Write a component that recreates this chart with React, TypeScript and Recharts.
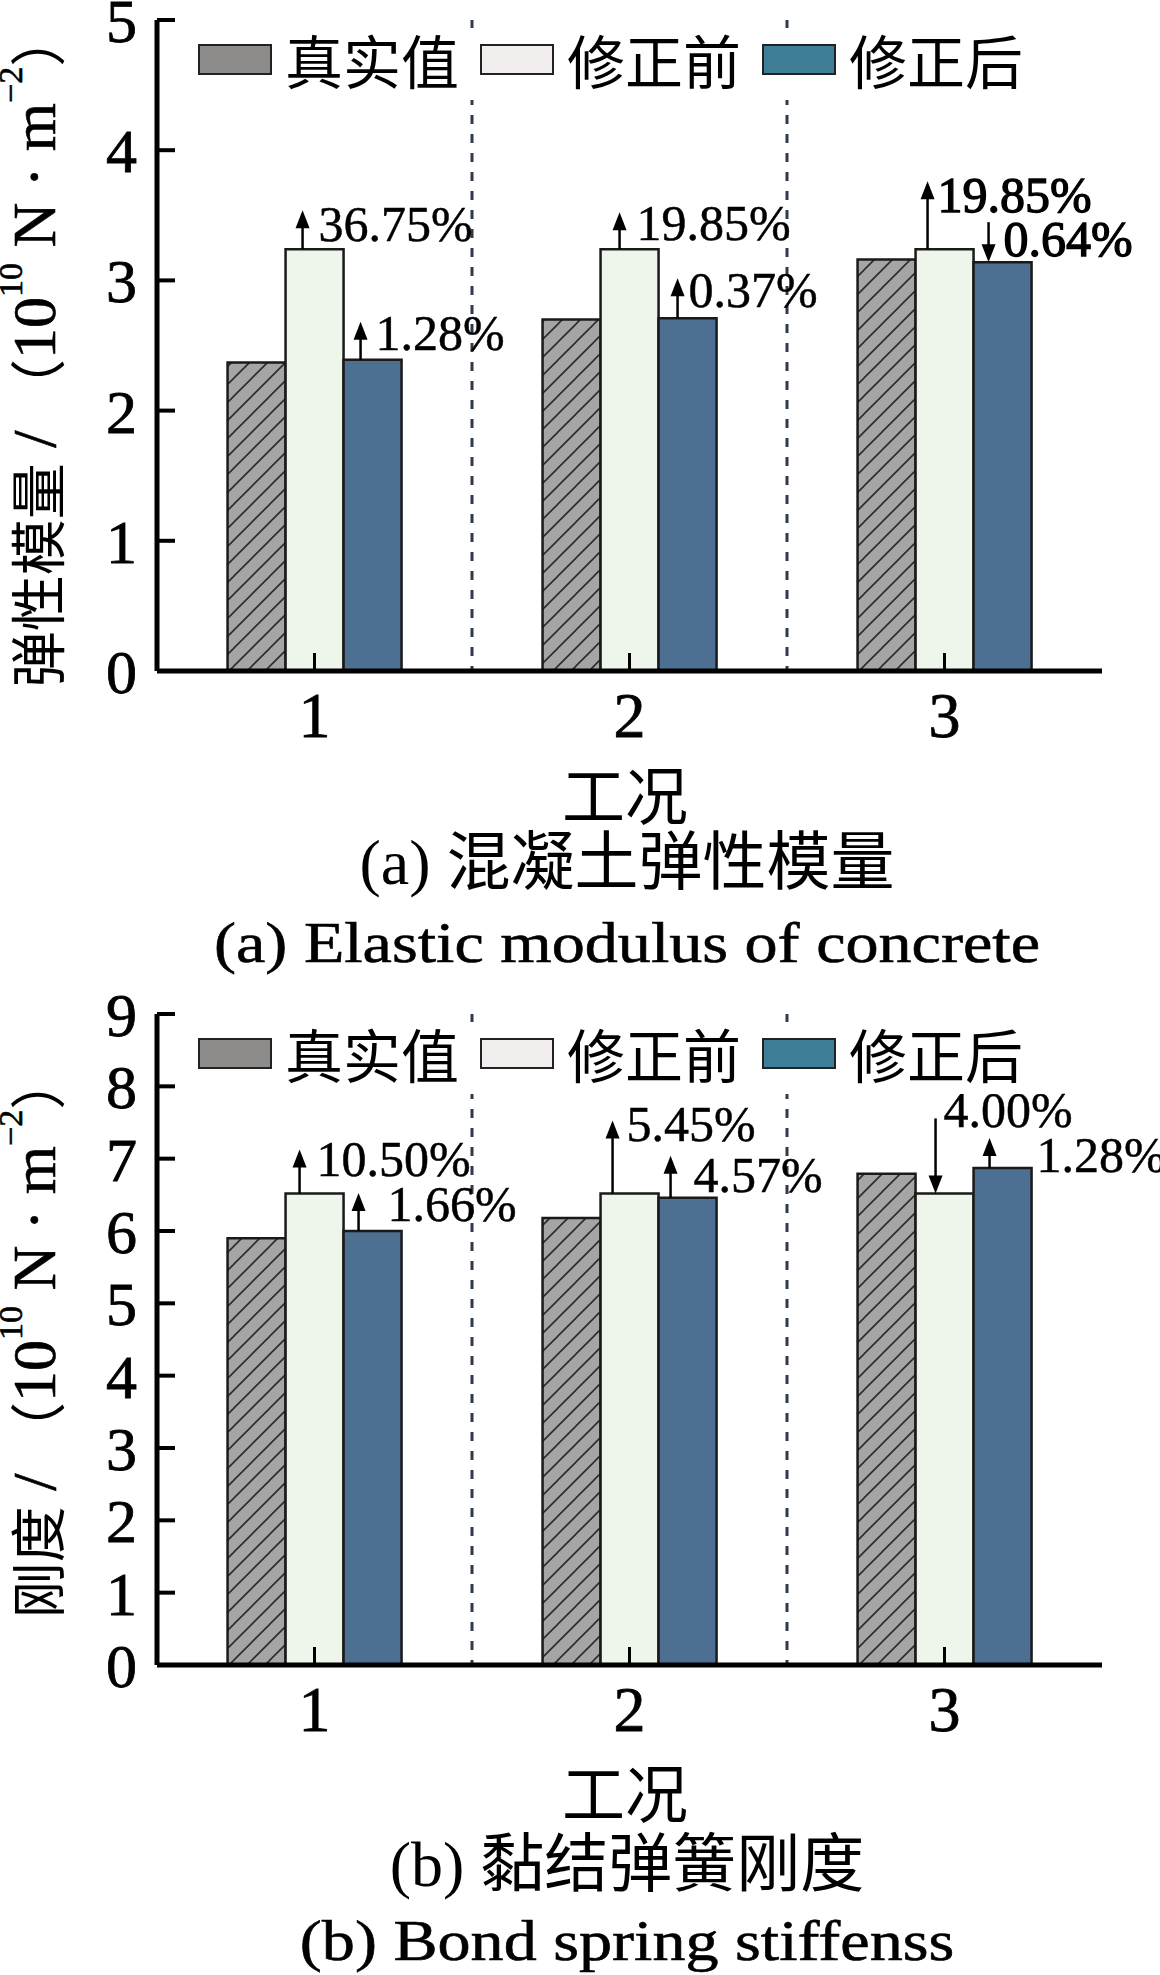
import React from "react";
import { BarChart, Bar, XAxis, YAxis, CartesianGrid, LabelList } from "recharts";

const cases = ["1", "2", "3"];
const seriesNames = ["真实值", "修正前", "修正后"];

// (a) elastic modulus of concrete, 10^10 N·m^-2
const modulusTrue = [2.37, 2.7, 3.16];
const modulusBefore = [3.24, 3.24, 3.24];
const modulusAfter = [2.39, 2.71, 3.14];
const modulusBeforeNotes = ["36.75%", "19.85%", "19.85%"];
const modulusAfterNotes = ["1.28%", "0.37%", "0.64%"];
const modulusTicks = [0, 1, 2, 3, 4, 5];

// (b) bond spring stiffness, 10^10 N·m^-2
const stiffTrue = [5.9, 6.18, 6.79];
const stiffBefore = [6.52, 6.52, 6.52];
const stiffAfter = [6.0, 6.46, 6.87];
const stiffBeforeNotes = ["10.50%", "5.45%", "4.00%"];
const stiffAfterNotes = ["1.66%", "4.57%", "1.28%"];
const stiffTicks = [0, 1, 2, 3, 4, 5, 6, 7, 8, 9];

const SERIF = "'Liberation Serif', 'Times New Roman', 'Noto Sans CJK SC', serif";
const CJK = "'Noto Sans CJK SC', 'Liberation Serif', sans-serif";
const barColors = ["url(#hatch)", "#eef5eb", "#4c6f92"];
const legendColors = ["#8e8b8b", "#f2eeee", "#3f7e97"];

type NoteLayout = { ax: number; len: number; lx: number; ly: number; heavy?: boolean };

// arrow offset from bar left, arrow length, label offset from arrow, label baseline vs bar top
const modulusBeforeLayout: NoteLayout[] = [
  { ax: 17, len: 39, lx: 16, ly: -8 },
  { ax: 19, len: 37, lx: 17, ly: -9 },
  { ax: 12, len: 68, lx: 10, ly: -37, heavy: true },
];
const modulusAfterLayout: NoteLayout[] = [
  { ax: 17, len: 38, lx: 15, ly: -10 },
  { ax: 19, len: 40, lx: 11, ly: -11 },
  { ax: 15, len: 40, lx: 15, ly: -6, heavy: true },
];
const stiffBeforeLayout: NoteLayout[] = [
  { ax: 14, len: 44, lx: 17, ly: -17 },
  { ax: 12, len: 73, lx: 14, ly: -52 },
  { ax: 20, len: 75, lx: 8, ly: -66 },
];
const stiffAfterLayout: NoteLayout[] = [
  { ax: 15, len: 38, lx: 29, ly: -10 },
  { ax: 12, len: 42, lx: 23, ly: -6 },
  { ax: 16, len: 30, lx: 47, ly: 4 },
];

const buildRows = (t: number[], b: number[], a: number[], bn: string[], an: string[]) =>
  cases.map((name, i) => ({
    name,
    trueVal: t[i],
    before: b[i],
    after: a[i],
    beforeNote: bn[i],
    afterNote: an[i],
  }));

const makeNote = (truth: number[], values: number[], layout: NoteLayout[]) => (props: any) => {
  const i = props.index ?? 0;
  const l = layout[i];
  if (!l) return null;
  const x = Number(props.x);
  const top = Number(props.y);
  const ax = x + l.ax;
  const up = values[i] >= truth[i];
  const head = 18;
  const hw = 7;
  const arrow = up ? (
    <g>
      <line x1={ax} y1={top} x2={ax} y2={top - l.len + head - 2} stroke="#000" strokeWidth={2.5} />
      <polygon
        points={`${ax - hw},${top - l.len + head} ${ax + hw},${top - l.len + head} ${ax},${top - l.len}`}
        fill="#000"
      />
    </g>
  ) : (
    <g>
      <line x1={ax} y1={top - l.len} x2={ax} y2={top - head + 2} stroke="#000" strokeWidth={2.5} />
      <polygon points={`${ax - hw},${top - head} ${ax + hw},${top - head} ${ax},${top}`} fill="#000" />
    </g>
  );
  return (
    <g>
      {arrow}
      <text
        x={ax + l.lx}
        y={top + l.ly}
        fontSize={50}
        fontFamily={SERIF}
        fill="#000"
        stroke="#000"
        strokeWidth={l.heavy ? 1.3 : 0.5}
      >
        {props.value}
      </text>
    </g>
  );
};

const frame = { stroke: "#000", strokeWidth: 5 };

function Panel(p: {
  top: number;
  max: number;
  ticks: number[];
  truth: number[];
  before: number[];
  after: number[];
  beforeNotes: string[];
  afterNotes: string[];
  beforeLayout: NoteLayout[];
  afterLayout: NoteLayout[];
}) {
  const rows = buildRows(p.truth, p.before, p.after, p.beforeNotes, p.afterNotes);
  return (
    <div style={{ position: "absolute", left: 0, top: p.top }}>
      <BarChart
        width={1160}
        height={751}
        data={rows}
        margin={{ top: 20, right: 58, bottom: 0, left: 0 }}
        barCategoryGap="22.4%"
        barGap={0}
      >
        <CartesianGrid
          horizontal={false}
          vertical
          stroke="#2f3b4a"
          strokeWidth={3}
          strokeDasharray="9 10"
          verticalCoordinatesGenerator={({ offset }: any) =>
            cases.slice(1).map((_, k) => offset.left + (offset.width * (k + 1)) / cases.length)
          }
        />
        <XAxis
          dataKey="name"
          height={80}
          interval={0}
          tickSize={-18}
          tickMargin={39}
          axisLine={frame}
          tickLine={{ stroke: "#000", strokeWidth: 3 }}
          tick={{ fill: "#000", stroke: "#000", strokeWidth: 0.8, fontSize: 64, fontFamily: SERIF }}
        />
        <XAxis
          xAxisId="top"
          orientation="top"
          dataKey="name"
          height={0}
          tick={false}
          tickLine={false}
          axisLine={frame}
        />
        <YAxis
          width={157}
          domain={[0, p.max]}
          ticks={p.ticks}
          interval={0}
          tickSize={-18}
          tickMargin={38}
          axisLine={frame}
          tickLine={{ stroke: "#000", strokeWidth: 4 }}
          tick={{ fill: "#000", stroke: "#000", strokeWidth: 0.8, fontSize: 62, fontFamily: SERIF }}
        />
        <YAxis
          yAxisId="right"
          orientation="right"
          width={0}
          domain={[0, p.max]}
          tick={false}
          tickLine={false}
          axisLine={frame}
        />
        <Bar dataKey="trueVal" name={seriesNames[0]} fill={barColors[0]} stroke="#1a1a1a" strokeWidth={2.5} isAnimationActive={false} />
        <Bar dataKey="before" name={seriesNames[1]} fill={barColors[1]} stroke="#1a1a1a" strokeWidth={2.5} isAnimationActive={false}>
          <LabelList dataKey="beforeNote" content={makeNote(p.truth, p.before, p.beforeLayout)} />
        </Bar>
        <Bar dataKey="after" name={seriesNames[2]} fill={barColors[2]} stroke="#1a1a1a" strokeWidth={2.5} isAnimationActive={false}>
          <LabelList dataKey="afterNote" content={makeNote(p.truth, p.after, p.afterLayout)} />
        </Bar>
      </BarChart>
    </div>
  );
}

function LegendBox({ top }: { top: number }) {
  return (
    <div
      style={{
        position: "absolute",
        left: 190,
        top,
        width: 860,
        height: 72,
        background: "#fff",
      }}
    >
      <div style={{ display: "flex", alignItems: "center", height: 62, paddingLeft: 8 }}>
        {seriesNames.map((n, i) => (
          <div key={n} style={{ display: "flex", alignItems: "center", width: 282 }}>
            <div
              style={{
                width: 74,
                height: 31,
                boxSizing: "border-box",
                border: "2px solid #222",
                background: legendColors[i],
              }}
            />
            <span style={{ marginLeft: 13, fontFamily: CJK, fontSize: 58, lineHeight: 1, color: "#000" }}>{n}</span>
          </div>
        ))}
      </div>
    </div>
  );
}

function YLabel({ y, head }: { y: number; head: string }) {
  return (
    <text
      transform={`translate(34 ${y}) rotate(-90)`}
      textAnchor="middle"
      dominantBaseline="central"
      fontSize={62}
      fontFamily={SERIF}
      fill="#000"
      stroke="#000"
      strokeWidth={0.6}
    >
      <tspan fontFamily={CJK} fontSize={56} strokeWidth={0}>{head}</tspan>
      <tspan> / </tspan>
      <tspan fontFamily={CJK} fontSize={56} strokeWidth={0}>（</tspan>
      <tspan>10</tspan>
      <tspan fontSize={34} dy={-24}>10</tspan>
      <tspan dy={24}> N · m</tspan>
      <tspan fontSize={34} dy={-24}>−2</tspan>
      <tspan fontFamily={CJK} fontSize={56} strokeWidth={0} dy={24}>）</tspan>
    </text>
  );
}

function Captions({ xl, cn, en, cnText, enText }: { xl: number; cn: number; en: number; cnText: string; enText: string }) {
  return (
    <g fill="#000">
      <text x={625} y={xl} textAnchor="middle" dominantBaseline="central" fontSize={63} fontFamily={CJK}>
        工况
      </text>
      <text x={627} y={cn} textAnchor="middle" dominantBaseline="central" fontSize={64} fontFamily={SERIF}>
        {cnText}
      </text>
      <text
        transform={`translate(627 ${en}) scale(1.16 1)`}
        textAnchor="middle"
        fontSize={57}
        fontFamily={SERIF}
        stroke="#000"
        strokeWidth={0.6}
      >
        {enText}
      </text>
    </g>
  );
}

export default function App() {
  return (
    <div style={{ position: "relative", width: 1160, height: 1975, background: "#fff", overflow: "hidden" }}>
      <style>{"body{margin:0;background:#fff}"}</style>
      <svg width={0} height={0} style={{ position: "absolute" }}>
        <defs>
          <pattern id="hatch" patternUnits="userSpaceOnUse" width={18} height={18}>
            <rect width={18} height={18} fill="#a5a5a5" />
            <path d="M-4.5,4.5 L4.5,-4.5 M0,18 L18,0 M13.5,22.5 L22.5,13.5" stroke="#2b2b2b" strokeWidth={1.6} />
          </pattern>
        </defs>
      </svg>
      <Panel
        top={0}
        max={5}
        ticks={modulusTicks}
        truth={modulusTrue}
        before={modulusBefore}
        after={modulusAfter}
        beforeNotes={modulusBeforeNotes}
        afterNotes={modulusAfterNotes}
        beforeLayout={modulusBeforeLayout}
        afterLayout={modulusAfterLayout}
      />
      <Panel
        top={994}
        max={9}
        ticks={stiffTicks}
        truth={stiffTrue}
        before={stiffBefore}
        after={stiffAfter}
        beforeNotes={stiffBeforeNotes}
        afterNotes={stiffAfterNotes}
        beforeLayout={stiffBeforeLayout}
        afterLayout={stiffAfterLayout}
      />
      <LegendBox top={28} />
      <LegendBox top={1022} />
      <svg
        width={1160}
        height={1975}
        style={{ position: "absolute", left: 0, top: 0, pointerEvents: "none" }}
      >
        <YLabel y={349} head="弹性模量" />
        <YLabel y={1336} head="刚度" />
        <Captions xl={791} cn={862} en={962} cnText="(a) 混凝土弹性模量" enText="(a) Elastic modulus of concrete" />
        <Captions xl={1789} cn={1864} en={1960} cnText="(b) 黏结弹簧刚度" enText="(b) Bond spring stiffenss" />
      </svg>
    </div>
  );
}
